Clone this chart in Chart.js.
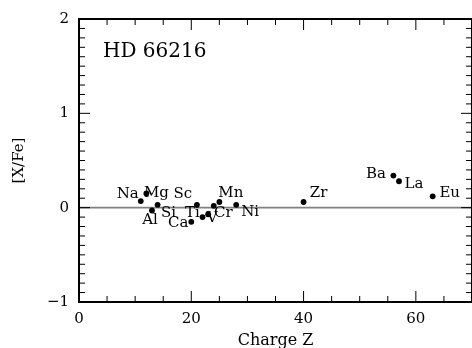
<!DOCTYPE html>
<html>
<head>
<meta charset="utf-8">
<script src="https://cdn.jsdelivr.net/npm/chart.js@4.4.0/dist/chart.umd.min.js"></script>
<style>
  html, body { margin: 0; padding: 0; background: #fff; overflow: hidden; width: 472px; height: 348px; }
  canvas { display: block; }
</style>
</head>
<body>
<canvas id="abundChart" width="476" height="348"></canvas>
<script>
// ===== data =====
const elements = ['Na', 'Mg', 'Al', 'Si', 'Ca', 'Sc', 'Ti', 'V', 'Cr', 'Mn', 'Ni', 'Zr', 'Ba', 'La', 'Eu'];
const chargeZ  = [11, 12, 13, 14, 20, 21, 22, 23, 24, 25, 28, 40, 56, 57, 63];
const xFe      = [0.07, 0.15, -0.03, 0.03, -0.15, 0.03, -0.10, -0.07, 0.02, 0.06, 0.03, 0.06, 0.34, 0.28, 0.12];
const xTicks   = [0, 20, 40, 60];
const yTicks   = [-1, 0, 1, 2];

// label offset from its dot (px) - just styling
const labelOffsets = [
  [-13, -7], [10, 0], [-2, 10], [11, 8], [-13, 1], [-14, -11], [-10, -4], [4, 4],
  [9.5, 7], [11.5, -9], [14, 7], [15, -9], [-17.5, -1], [15, 3], [17, -3]
];

const serif = 'DejaVu Serif';

const points = chargeZ.map((z, i) => ({ x: z, y: xFe[i] }));

// 0 line, frame, ticks inside the box, element names
const plotDecor = {
  id: 'plotDecor',
  beforeDatasetsDraw(chart) {
    const { ctx, chartArea: a, scales: { y } } = chart;
    const y0 = y.getPixelForValue(0);
    ctx.save();
    ctx.strokeStyle = '#808080';
    ctx.lineWidth = 1.6;
    ctx.beginPath();
    ctx.moveTo(a.left, y0);
    ctx.lineTo(a.right, y0);
    ctx.stroke();
    ctx.restore();
  },
  afterDatasetsDraw(chart) {
    const { ctx, chartArea: a, scales: { x, y } } = chart;
    ctx.save();
    ctx.strokeStyle = '#000';
    ctx.lineWidth = 1;
    ctx.beginPath();
    // x ticks every 5, long every 20
    for (let v = 0; v <= 70; v += 5) {
      const px = x.getPixelForValue(v);
      const len = v % 20 === 0 ? 11 : 6;
      ctx.moveTo(px, a.bottom); ctx.lineTo(px, a.bottom - len);
      ctx.moveTo(px, a.top); ctx.lineTo(px, a.top + len);
    }
    // y ticks every 0.1, long every 1
    for (let k = -10; k <= 20; k++) {
      const py = y.getPixelForValue(k / 10);
      const len = k % 10 === 0 ? 11 : 6;
      ctx.moveTo(a.left, py); ctx.lineTo(a.left + len, py);
      ctx.moveTo(a.right, py); ctx.lineTo(a.right - len, py);
    }
    ctx.stroke();

    ctx.lineWidth = 2;
    ctx.strokeRect(a.left, a.top, a.right - a.left, a.bottom - a.top);

    // element names
    ctx.fillStyle = '#000';
    ctx.font = '15px "' + serif + '"';
    ctx.textAlign = 'center';
    ctx.textBaseline = 'middle';
    elements.forEach((name, i) => {
      const px = x.getPixelForValue(chargeZ[i]);
      const py = y.getPixelForValue(xFe[i]);
      ctx.fillText(name, px + labelOffsets[i][0], py + labelOffsets[i][1]);
    });

    // star name
    ctx.font = '20px "' + serif + '"';
    ctx.textAlign = 'left';
    ctx.fillText('HD 66216', a.left + 24, a.top + 33);
    ctx.restore();
  }
};

const ctx = document.getElementById('abundChart').getContext('2d');

const chart = new Chart(ctx, {
  type: 'scatter',
  data: {
    datasets: [{
      label: '[X/Fe]',
      data: points,
      backgroundColor: '#000',
      borderWidth: 0,
      pointRadius: 2.9
    }]
  },
  options: {
    responsive: false,
    animation: false,
    layout: { padding: { top: 17, right: 1.5, left: 0, bottom: 0 } },
    plugins: {
      legend: { display: false },
      tooltip: { enabled: false }
    },
    scales: {
      x: {
        type: 'linear',
        min: 0,
        max: 70,
        afterBuildTicks: s => { s.ticks = xTicks.map(v => ({ value: v })); },
        afterFit: s => { s.height = 46; },
        grid: { display: false, drawTicks: false },
        border: { display: false },
        ticks: { color: '#000', padding: 8, font: { family: serif, size: 15 } },
        title: {
          display: true,
          text: 'Charge Z',
          color: '#000',
          font: { family: serif, size: 16 },
          padding: { top: 0, bottom: -2 }
        }
      },
      y: {
        min: -1,
        max: 2,
        afterBuildTicks: s => { s.ticks = yTicks.map(v => ({ value: v })); },
        afterFit: s => { s.width = 79; },
        grid: { display: false, drawTicks: false },
        border: { display: false },
        ticks: {
          color: '#000',
          padding: 10,
          font: { family: serif, size: 15 },
          callback: v => (v < 0 ? '\u2212' + Math.abs(v) : String(v))
        },
        title: {
          display: true,
          text: '[X/Fe]',
          color: '#000',
          font: { family: serif, size: 15 },
          padding: { top: 10, bottom: 0 }
        }
      }
    }
  },
  plugins: [plotDecor]
});
</script>
</body>
</html>
